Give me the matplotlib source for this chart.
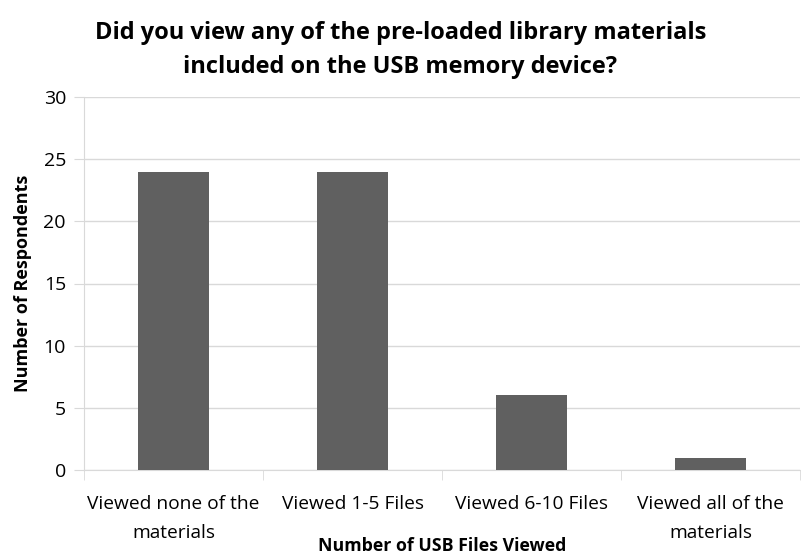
import matplotlib
matplotlib.use("Agg")
import matplotlib.pyplot as plt
import numpy as np

categories = ["Viewed none of the\nmaterials", "Viewed 1-5 Files", "Viewed 6-10 Files", "Viewed all of the\nmaterials"]
values = [24, 24, 6, 1]
yticks = [0, 5, 10, 15, 20, 25, 30]

plt.rcParams['font.family'] = ['Open Sans', 'DejaVu Sans']

fig = plt.figure(figsize=(8.01, 5.56), dpi=100)
ax = fig.add_axes([84/801, (556-470)/556, (800-84)/801, (470-97)/556])

x = np.arange(len(categories))
ax.bar(x, values, width=0.4, color="#606060", zorder=3)

ax.set_xlim(-0.5, len(categories) - 0.5)
ax.set_ylim(0, 30)
ax.set_yticks(yticks)
ax.tick_params(axis='y', length=7, color="#d9d9d9", labelsize=14, pad=6)
ax.yaxis.grid(True, color="#d9d9d9", linewidth=1, zorder=0)

ax.set_xticks(x)
ax.set_xticklabels(categories, fontsize=13.8, linespacing=1.75)
ax.tick_params(axis='x', length=0, pad=18)
# category separator ticks
ax.set_xticks(np.arange(-0.5, len(categories)), minor=True)
ax.tick_params(axis='x', which='minor', length=7, color="#d9d9d9")

for s in ['top', 'right']:
    ax.spines[s].set_visible(False)
ax.spines['left'].set_color("#d9d9d9")
ax.spines['bottom'].set_color("#d9d9d9")

ax.set_ylabel("Number of Respondents", fontsize=13, fontweight='bold', labelpad=8)
ax.set_xlabel("Number of USB Files Viewed", fontsize=12.8, fontweight='bold', labelpad=-3)

fig.suptitle("Did you view any of the pre-loaded library materials\nincluded on the USB memory device?",
             fontsize=17, fontweight='bold', y=0.963, linespacing=1.58)

fig.savefig("out.png", dpi=100)
